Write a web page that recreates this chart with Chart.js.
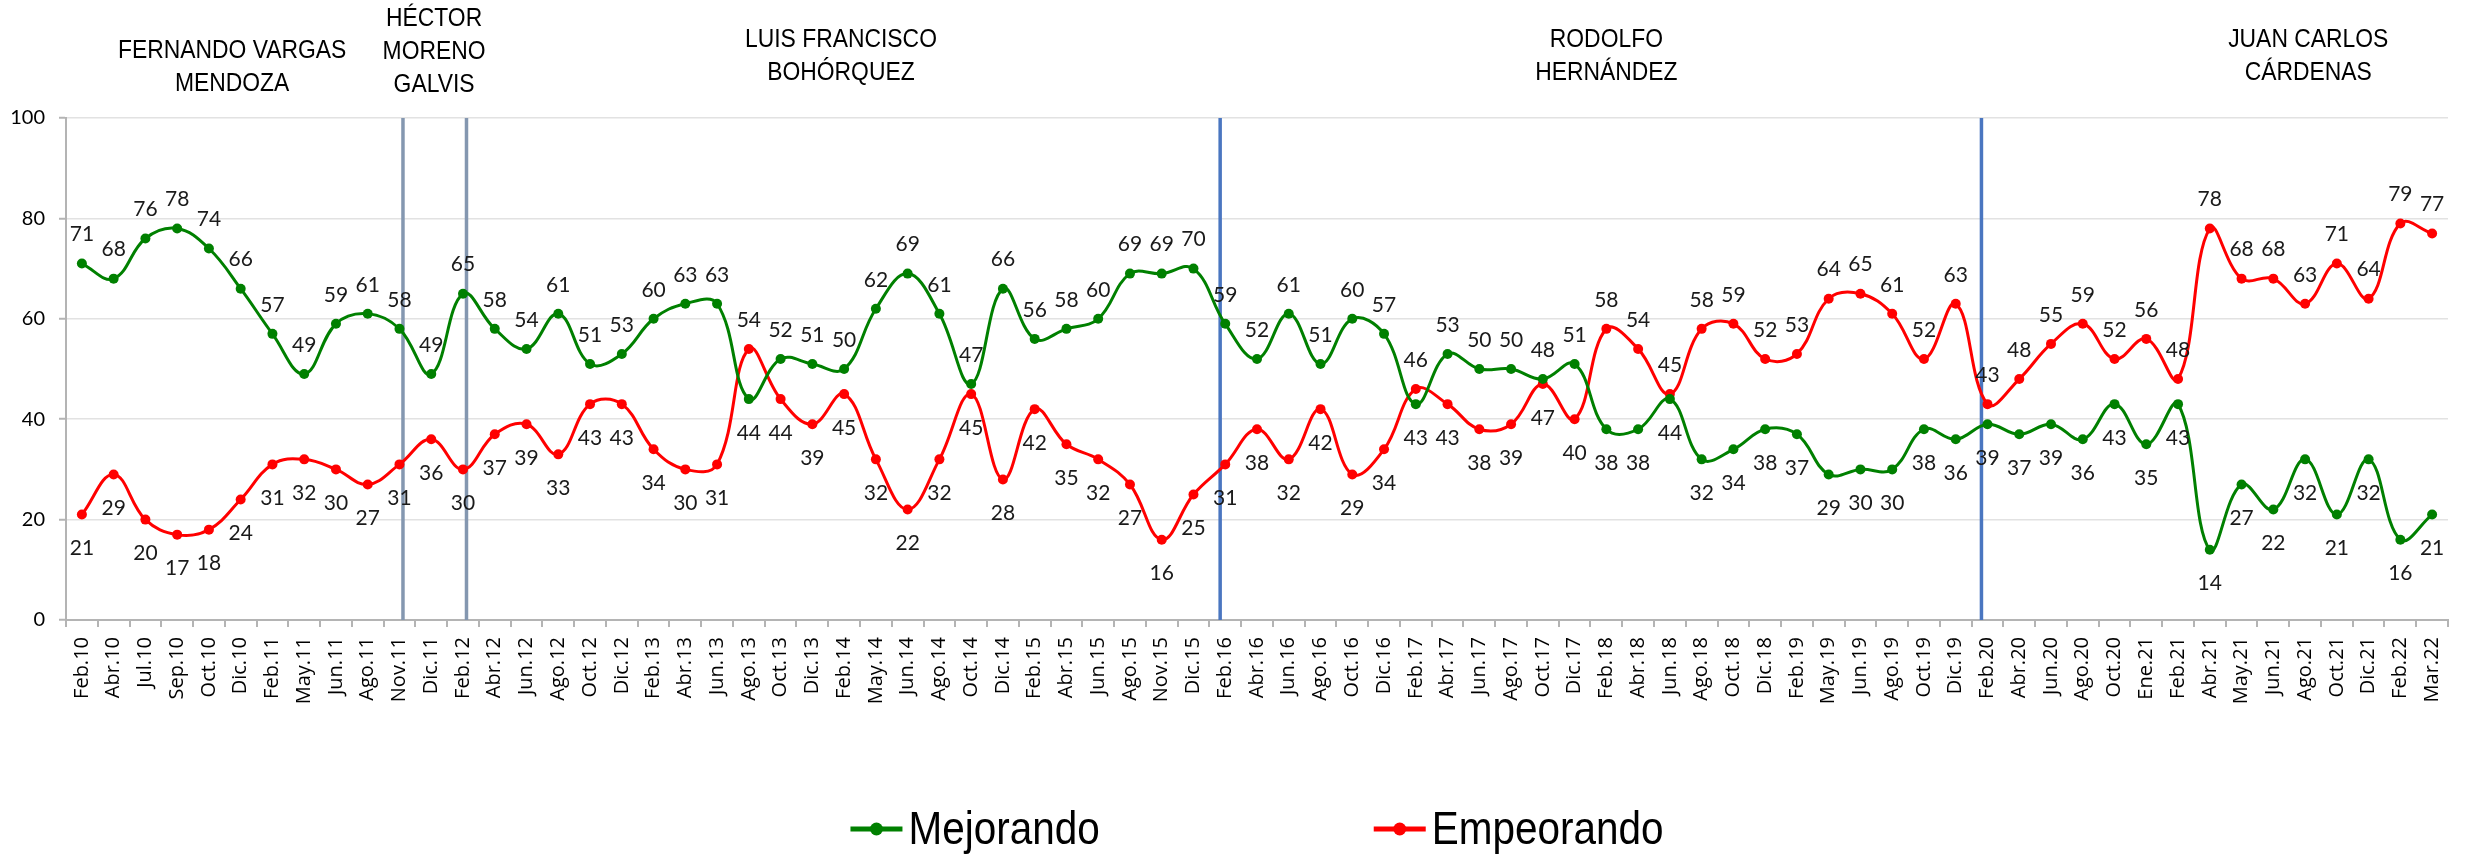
<!DOCTYPE html>
<html>
<head>
<meta charset="utf-8">
<script src="https://cdn.jsdelivr.net/npm/chart.js@4.4.1/dist/chart.umd.min.js"></script>
<style>
  html, body { margin: 0; padding: 0; background: #fff; }
  #wrap { width: 2476px; height: 856px; }
</style>
</head>
<body>
<div id="wrap"><canvas id="chart"></canvas></div>
<script>
// survey months
const MONTHS = [
  'Feb.10', 'Abr.10', 'Jul.10', 'Sep.10', 'Oct.10', 'Dic.10', 'Feb.11', 'May.11', 'Jun.11', 'Ago.11',
  'Nov.11', 'Dic.11', 'Feb.12', 'Abr.12', 'Jun.12', 'Ago.12', 'Oct.12', 'Dic.12', 'Feb.13', 'Abr.13',
  'Jun.13', 'Ago.13', 'Oct.13', 'Dic.13', 'Feb.14', 'May.14', 'Jun.14', 'Ago.14', 'Oct.14', 'Dic.14',
  'Feb.15', 'Abr.15', 'Jun.15', 'Ago.15', 'Nov.15', 'Dic.15', 'Feb.16', 'Abr.16', 'Jun.16', 'Ago.16',
  'Oct.16', 'Dic.16', 'Feb.17', 'Abr.17', 'Jun.17', 'Ago.17', 'Oct.17', 'Dic.17', 'Feb.18', 'Abr.18',
  'Jun.18', 'Ago.18', 'Oct.18', 'Dic.18', 'Feb.19', 'May.19', 'Jun.19', 'Ago.19', 'Oct.19', 'Dic.19',
  'Feb.20', 'Abr.20', 'Jun.20', 'Ago.20', 'Oct.20', 'Ene.21', 'Feb.21', 'Abr.21', 'May.21', 'Jun.21',
  'Ago.21', 'Oct.21', 'Dic.21', 'Feb.22', 'Mar.22'
];

const MEJORANDO = [
  71, 68, 76, 78, 74, 66, 57, 49, 59, 61,
  58, 49, 65, 58, 54, 61, 51, 53, 60, 63,
  63, 44, 52, 51, 50, 62, 69, 61, 47, 66,
  56, 58, 60, 69, 69, 70, 59, 52, 61, 51,
  60, 57, 43, 53, 50, 50, 48, 51, 38, 38,
  44, 32, 34, 38, 37, 29, 30, 30, 38, 36,
  39, 37, 39, 36, 43, 35, 43, 14, 27, 22,
  32, 21, 32, 16, 21
];

const EMPEORANDO = [
  21, 29, 20, 17, 18, 24, 31, 32, 30, 27,
  31, 36, 30, 37, 39, 33, 43, 43, 34, 30,
  31, 54, 44, 39, 45, 32, 22, 32, 45, 28,
  42, 35, 32, 27, 16, 25, 31, 38, 32, 42,
  29, 34, 46, 43, 38, 39, 47, 40, 58, 54,
  45, 58, 59, 52, 53, 64, 65, 61, 52, 63,
  43, 48, 55, 59, 52, 56, 48, 78, 68, 68,
  63, 71, 64, 79, 77
];

const SERIES_NAMES = ['Mejorando', 'Empeorando'];

// president periods: names and the month each change happened
const PRESIDENTS = [
  ['FERNANDO VARGAS', 'MENDOZA'],
  ['HÉCTOR', 'MORENO', 'GALVIS'],
  ['LUIS FRANCISCO', 'BOHÓRQUEZ'],
  ['RODOLFO', 'HERNÁNDEZ'],
  ['JUAN CARLOS', 'CÁRDENAS']
];
const CHANGE_MONTHS = ['Nov.11', 'Feb.12', 'Feb.16', 'Feb.20'];

const GREEN = '#008000';
const RED = '#ff0000';
const AXIS_GRAY = '#b4b4b4';
const TEXT_FONT = "'Liberation Sans', Arial, sans-serif";
const NUM_FONT = "Lato, 'Open Sans', sans-serif";
const TICK_FONT = "'Open Sans', sans-serif";

// narrow text: the source used a condensed face, squeeze horizontally
function narrowText(ctx, text, x, y, sx) {
  ctx.save();
  ctx.translate(x, y);
  ctx.scale(sx, 1);
  ctx.fillText(text, 0, 0);
  ctx.restore();
}

/* vertical lines where the president changes */
const dividerPlugin = {
  id: 'dividers',
  beforeDatasetsDraw(chart) {
    const { ctx, chartArea, scales } = chart;
    const styles = [
      { color: '#8497b0', shift: 0.11 },
      { color: '#8497b0', shift: 0.11 },
      { color: '#4a76c0', shift: -0.16 },
      { color: '#4a76c0', shift: -0.19 },
    ];
    ctx.save();
    CHANGE_MONTHS.forEach((m, i) => {
      const x = scales.x.getPixelForValue(MONTHS.indexOf(m) + styles[i].shift);
      ctx.strokeStyle = styles[i].color;
      ctx.lineWidth = 3.5;
      ctx.beginPath();
      ctx.moveTo(x, chartArea.top);
      ctx.lineTo(x, chartArea.bottom);
      ctx.stroke();
    });
    ctx.restore();
  },
};

/* president names over the periods */
const namesPlugin = {
  id: 'names',
  afterDraw(chart) {
    const { ctx, scales } = chart;
    const anchors = [4.73, 11.09, 23.9, 48.0, 70.1];
    const tops = [51, 19, 40, 40, 40];
    ctx.save();
    ctx.font = `26px ${TEXT_FONT}`;
    ctx.fillStyle = '#000';
    ctx.textAlign = 'center';
    ctx.textBaseline = 'middle';
    PRESIDENTS.forEach((lines, i) => {
      const x = scales.x.getPixelForValue(anchors[i]);
      lines.forEach((t, k) => narrowText(ctx, t, x, tops[i] + k * 33, 0.88));
    });
    ctx.restore();
  },
};

/* value labels: the higher series of each month gets its label above */
const valueLabels = {
  id: 'valueLabels',
  afterDatasetsDraw(chart) {
    const { ctx } = chart;
    const all = chart.data.datasets.map(d => d.data);
    ctx.save();
    ctx.font = `21px ${NUM_FONT}`;
    ctx.fillStyle = '#1a1a1a';
    ctx.textAlign = 'center';
    ctx.textBaseline = 'middle';
    chart.data.datasets.forEach((ds, di) => {
      const meta = chart.getDatasetMeta(di);
      const other = all[1 - di];
      meta.data.forEach((pt, j) => {
        const above = ds.data[j] >= other[j];
        const y = above ? pt.y - 29 : pt.y + 34;
        ctx.fillText(String(ds.data[j]), pt.x, y);
      });
    });
    ctx.restore();
  },
};

/* legend at the bottom: line + dot marker, large text */
const bottomLegend = {
  id: 'bottomLegend',
  afterDraw(chart) {
    const { ctx, chartArea } = chart;
    const markerW = 52, textGap = 6, itemGap = 274, y = 829, sx = 0.88;
    ctx.save();
    ctx.font = `46px ${TEXT_FONT}`;
    ctx.textBaseline = 'middle';
    ctx.textAlign = 'left';
    const items = chart.data.datasets.map(ds => ({
      label: ds.label, color: ds.borderColor,
      tw: ctx.measureText(ds.label).width * sx,
    }));
    const total = items.reduce((s, it) => s + markerW + textGap + it.tw, 0) + itemGap * (items.length - 1);
    let x = (chartArea.left + chartArea.right) / 2 - total / 2;
    items.forEach(it => {
      ctx.strokeStyle = it.color;
      ctx.fillStyle = it.color;
      ctx.lineWidth = 5;
      ctx.beginPath();
      ctx.moveTo(x, y);
      ctx.lineTo(x + markerW, y);
      ctx.stroke();
      ctx.beginPath();
      ctx.arc(x + markerW / 2, y, 6.5, 0, Math.PI * 2);
      ctx.fill();
      ctx.fillStyle = '#000';
      narrowText(ctx, it.label, x + markerW + textGap, y + 2, sx);
      x += markerW + textGap + it.tw + itemGap;
    });
    ctx.restore();
  },
};

function seriesDataset(label, data, color) {
  return {
    label,
    data,
    borderColor: color,
    backgroundColor: color,
    borderWidth: 3,
    pointRadius: 5,
    pointBorderWidth: 0,
    pointBackgroundColor: color,
    tension: 0.4,
    fill: false,
  };
}

new Chart(document.getElementById('chart'), {
  type: 'line',
  data: {
    labels: MONTHS,
    datasets: [
      seriesDataset(SERIES_NAMES[0], MEJORANDO, GREEN),
      seriesDataset(SERIES_NAMES[1], EMPEORANDO, RED),
    ],
  },
  options: {
    responsive: true,
    maintainAspectRatio: false,
    animation: false,
    layout: { padding: { top: 118, right: 28, bottom: 0, left: 0 } },
    plugins: {
      legend: { display: false },
      tooltip: { enabled: false },
    },
    scales: {
      x: {
        offset: true,
        grid: { display: true, drawOnChartArea: false, drawTicks: true, tickLength: 7, offset: true, color: AXIS_GRAY, lineWidth: 2 },
        border: { display: true, color: AXIS_GRAY, width: 2 },
        ticks: { autoSkip: false, minRotation: 90, maxRotation: 90, padding: 10, color: '#000', font: { family: TICK_FONT, size: 20 } },
        afterFit: s => { s.height = 236; },
      },
      y: {
        min: 0,
        max: 100,
        ticks: { stepSize: 20, padding: 14, color: '#000', font: { family: NUM_FONT, size: 20 } },
        grid: { color: '#e2e2e2', lineWidth: 1.5, tickLength: 7, tickColor: AXIS_GRAY, tickWidth: 2 },
        border: { display: true, color: AXIS_GRAY, width: 2 },
        afterFit: s => { s.width = 66; },
      },
    },
  },
  plugins: [dividerPlugin, namesPlugin, valueLabels, bottomLegend],
});
</script>
</body>
</html>
